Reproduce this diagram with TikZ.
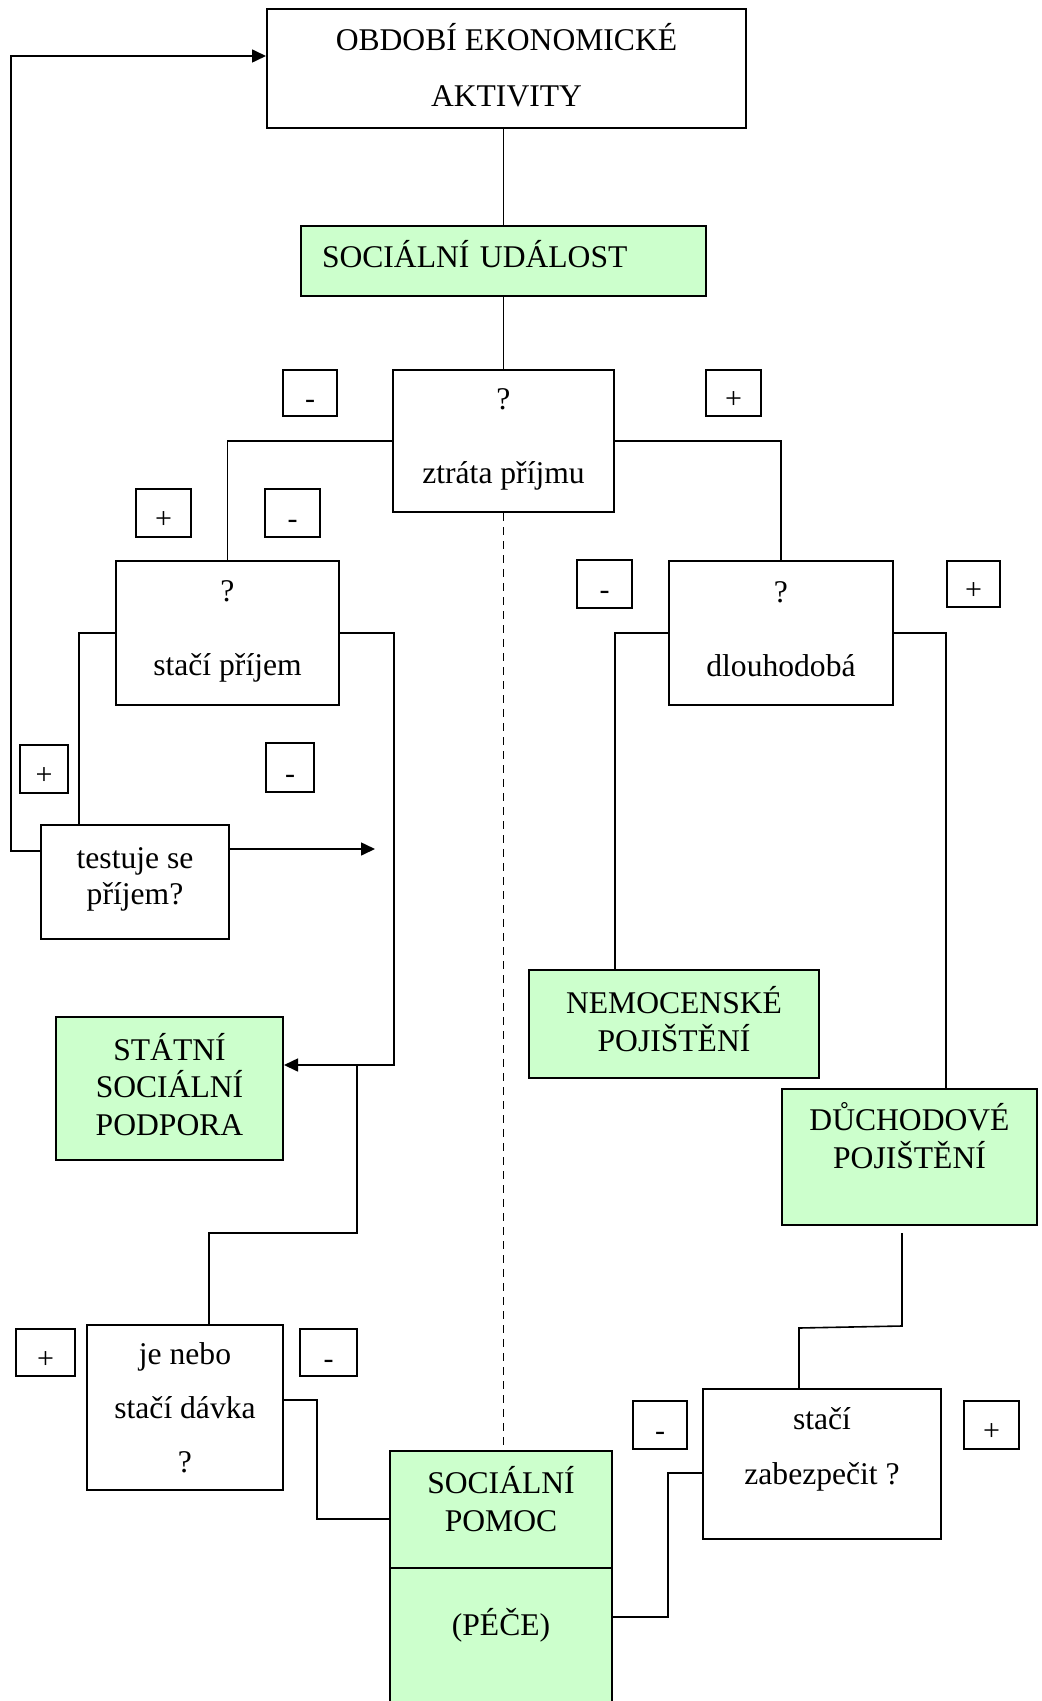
\documentclass[tikz,border=0pt]{standalone}
\usepackage{fontspec}
\setmainfont{Liberation Serif}
\usetikzlibrary{arrows.meta}
\definecolor{gfill}{HTML}{CCFFCC}
\tikzset{
  bx/.style={draw, line width=1pt, inner sep=0pt, align=center},
  gbx/.style={bx, fill=gfill},
  sg/.style={draw, line width=0.75pt, inner sep=0pt, text height=1.55em, text depth=0pt, font=\fontsize{15}{17}\selectfont},
  ln/.style={line width=0.8pt},
  arr/.style={ln, -{Triangle[length=7pt,width=6.5pt]}},
}
\begin{document}
\begin{tikzpicture}[x=0.5pt,y=-0.5pt]
\clip (0,0) rectangle (1042,1701);
\fill[white] (0,0) rectangle (1042,1701);
% boxes
\node[bx, minimum width=239.5pt, minimum height=59.5pt, text depth=3.3pt, font=\fontsize{15.8}{28}\selectfont] (top) at (506.5,68.5) {OBDOBÍ EKONOMICKÉ\\AKTIVITY};
\node[gbx, minimum width=202.5pt, minimum height=35pt, text width=181.5pt, inner xsep=10.5pt, align=left, text depth=7pt, font=\fontsize{15.8}{19}\selectfont] (event) at (503.5,261) {SOCIÁLNÍ UDÁLOST};
\node[bx, minimum width=110.5pt, minimum height=71pt, text depth=5pt, font=\fontsize{15.8}{37}\selectfont] (q1) at (503.5,441) {?\\ztráta příjmu};
\node[bx, minimum width=111.5pt, minimum height=72pt, text depth=5pt, font=\fontsize{15.8}{37}\selectfont] (q2) at (227.5,633) {?\\stačí příjem};
\node[bx, minimum width=112pt, minimum height=72pt, text depth=4.3pt, font=\fontsize{15.8}{37}\selectfont] (q3) at (781,633) {?\\dlouhodobá};
\node[bx, minimum width=94pt, minimum height=57pt, text depth=6pt, font=\fontsize{15.8}{18}\selectfont] (test) at (135,882) {testuje se\\příjem?};
\node[gbx, minimum width=145pt, minimum height=54pt, text depth=5.4pt, font=\fontsize{15.8}{19}\selectfont] (nemoc) at (674,1024) {NEMOCENSKÉ\\POJIŠTĚNÍ};
\node[gbx, minimum width=113.5pt, minimum height=71.5pt, text depth=4.4pt, font=\fontsize{15.8}{18.75}\selectfont] (statni) at (169.5,1088.5) {STÁTNÍ\\SOCIÁLNÍ\\PODPORA};
\node[gbx, minimum width=127.5pt, minimum height=68pt, text depth=22pt, font=\fontsize{15.8}{19}\selectfont] (duch) at (909.5,1157) {DŮCHODOVÉ\\POJIŠTĚNÍ};
\node[bx, minimum width=98pt, minimum height=82.5pt, font=\fontsize{15.8}{27}\selectfont] (jenebo) at (185,1407.5) {je nebo\\stačí dávka\\?};
\node[bx, minimum width=119pt, minimum height=75pt, text depth=18pt, font=\fontsize{15.8}{27.5}\selectfont] (zab) at (822,1464) {stačí\\zabezpečit ?};
\node[gbx, minimum width=111pt, minimum height=58.5pt, text depth=10.8pt, font=\fontsize{15.8}{19}\selectfont] (pomoc) at (501,1509.5) {SOCIÁLNÍ\\POMOC};
\node[gbx, anchor=north, minimum width=111pt, minimum height=96pt, text height=11pt, text depth=40pt, font=\fontsize{15.8}{19}\selectfont] (pece) at ([yshift=1pt]pomoc.south) {(PÉČE)};
% sign boxes
\node[sg, minimum width=27pt, minimum height=23pt] (m1) at (310,393) {-};
\node[sg, minimum width=27.5pt, minimum height=23pt] (p1) at (733.5,393) {+};
\node[sg, minimum width=27.5pt, minimum height=24pt] (p2) at (163.5,513) {+};
\node[sg, minimum width=27.5pt, minimum height=24pt] (m2) at (292.5,513) {-};
\node[sg, minimum width=27.5pt, minimum height=24pt] (m3) at (604.5,584) {-};
\node[sg, minimum width=26.5pt, minimum height=23pt] (p3) at (973.5,584) {+};
\node[sg, minimum width=24pt, minimum height=24pt] (p4) at (44,769) {+};
\node[sg, minimum width=24pt, minimum height=24.5pt] (m4) at (290,767.5) {-};
\node[sg, minimum width=29.5pt, minimum height=23.5pt] (p5) at (45.5,1352.5) {+};
\node[sg, minimum width=28.5pt, minimum height=23.5pt] (m5) at (328.5,1352.5) {-};
\node[sg, minimum width=27pt, minimum height=24pt] (m6) at (660,1425) {-};
\node[sg, minimum width=27.5pt, minimum height=24pt] (p6) at (991.5,1425) {+};
% helper coordinates
\coordinate (k1) at (357,1065);
\coordinate (tend) at (375,849);
% connectors
\draw[ln] (event.north |- top.south) -- (event.north);
\draw[ln] (event.south) -- (q1.north);
\draw[ln] (q1.west) -| (q2.north);
\draw[ln] (q1.east) -| (q3.north);
\draw[ln] (q2.west) -| ([xshift=19.5pt]test.north west);
\draw[arr] (q2.east) -- ++(54,0) |- ([yshift=11.75pt]statni.east);
\draw[ln] (k1) -- ++(0,168) -| ([xshift=12pt]jenebo.north);
\draw[arr] ([yshift=15.5pt]test.west) -- ++(-29,0) |- ([yshift=6.25pt]top.west);
\draw[arr] ([yshift=16.5pt]test.east) -- (tend);
\draw[ln] (q3.west) -| ([xshift=-29.5pt]nemoc.north);
\draw[ln] (q3.east) -| ([xshift=18.25pt]duch.north);
\draw[ln] ([xshift=-3.75pt,yshift=-3.5pt]duch.south) -- ++(0,93) -- ++(-103,2) -- ([xshift=-11.5pt]zab.north);
\draw[ln] ([yshift=3.75pt]jenebo.east) -- ++(33,0) |- ([yshift=-4.75pt]pomoc.west);
\draw[ln] ([yshift=-4.5pt]zab.west) -- ++(-34,0) |- ([yshift=23.5pt]pece.east);
\draw[line width=0.6pt, dash pattern=on 4pt off 3pt] (q1.south) -- (q1.south |- pomoc.north);
\end{tikzpicture}
\end{document}
